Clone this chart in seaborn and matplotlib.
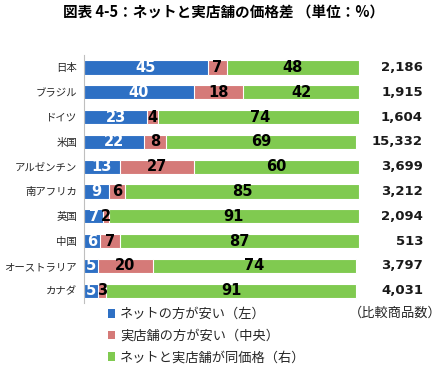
import matplotlib
matplotlib.use("Agg")
import matplotlib.pyplot as plt
import seaborn as sns
import numpy as np
import pandas as pd
from matplotlib.patches import Patch

countries = ["日本", "ブラジル", "ドイツ", "米国", "アルゼンチン", "南アフリカ", "英国", "中国", "オーストラリア", "カナダ"]
net_cheaper = [45, 40, 23, 22, 13, 9, 7, 6, 5, 5]
store_cheaper = [7, 18, 4, 8, 27, 6, 2, 7, 20, 3]
same_price = [48, 42, 74, 69, 60, 85, 91, 87, 74, 91]
counts = ["2,186", "1,915", "1,604", "15,332", "3,699", "3,212", "2,094", "513", "3,797", "4,031"]
series_names = ["ネットの方が安い（左）", "実店舗の方が安い（中央）", "ネットと実店舗が同価格（右）"]
count_title = "（比較商品数）"
title = "図表 4-5：ネットと実店舗の価格差 （単位：%）"

sns.set_style("white")
plt.rcParams["font.family"] = ["Noto Sans CJK JP", "DejaVu Sans"]

BLUE = "#2E70C4"
RED = "#D57A78"
GREEN = "#80CA50"

df = pd.DataFrame({"country": countries, "a": net_cheaper, "b": store_cheaper, "c": same_price})
df["ab"] = df["a"] + df["b"]
df["abc"] = df["ab"] + df["c"]

fig = plt.figure(figsize=(4.48, 3.77), dpi=100)
ax = fig.add_axes([0.1875, 0.196, 0.6138, 0.658])

kw = dict(y="country", orient="h", width=0.57, edgecolor="white", linewidth=0.8, saturation=1, ax=ax)
sns.barplot(data=df, x="abc", color=GREEN, **kw)
sns.barplot(data=df, x="ab", color=RED, **kw)
sns.barplot(data=df, x="a", color=BLUE, **kw)

ax.set_xlim(0, 100)
ax.set_ylim(9.5, -0.5)
ax.set_xlabel("")
ax.set_ylabel("")
ax.set_xticks([])
for s in ["top", "right", "bottom"]:
    ax.spines[s].set_visible(False)
ax.spines["left"].set_color("#BFBFBF")
ax.spines["left"].set_linewidth(0.8)
ax.set_yticks(range(len(countries)))
ax.set_yticklabels(countries, fontsize=7.5, color="#262626")
ax.tick_params(axis="y", which="major", length=0, pad=5)
ax.set_yticks(np.arange(-0.5, len(countries), 1.0), minor=True)
ax.tick_params(axis="y", which="minor", length=4, color="#BFBFBF", width=0.8)

bold = dict(fontsize=10.5, fontweight="bold", family="DejaVu Sans", va="center", ha="center")
for i in range(len(countries)):
    a, b, c = net_cheaper[i], store_cheaper[i], same_price[i]
    ax.text(a / 2, i, str(a), color="white", **bold)
    ax.text(a + b / 2, i, str(b), color="black", **bold)
    ax.text(a + b + c / 2, i, str(c), color="black", **bold)
    ax.text(1.233, i, counts[i], transform=ax.get_yaxis_transform(), ha="right", va="center",
            fontsize=9.5, fontweight="bold", family="DejaVu Sans", color="#1a1a1a")

fig.text(0.5, 0.967, title, ha="center", va="center", fontsize=10.5, fontweight="bold", color="black")

handles = [Patch(facecolor=c, edgecolor="none") for c in (BLUE, RED, GREEN)]
fig.legend(handles, series_names, loc="upper left", bbox_to_anchor=(0.24, 0.183), frameon=False,
           fontsize=9.5, handlelength=0.6, handleheight=0.6, handletextpad=0.35, labelspacing=0.65,
           borderaxespad=0, borderpad=0)
fig.text(0.985, 0.168, count_title, ha="right", va="center", fontsize=9.5, color="#262626")

fig.savefig("out.png", dpi=100)
